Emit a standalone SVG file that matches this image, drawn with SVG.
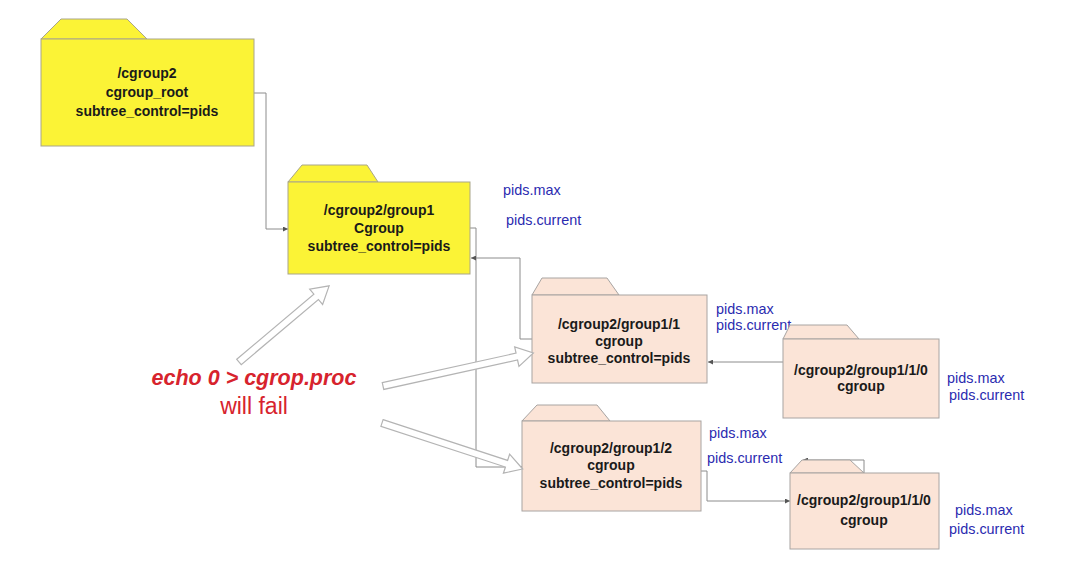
<svg xmlns="http://www.w3.org/2000/svg" width="1080" height="573" viewBox="0 0 1080 573">
<defs>
<style>
.yel{fill:#fbf336;stroke:#a9a58a;stroke-width:1}
.pch{fill:#fbe4d7;stroke:#a8a4a2;stroke-width:1}
.nt{font-family:"Liberation Sans",Arial,sans-serif;font-weight:bold;font-size:14px;fill:#1a1a1a;text-anchor:middle}
.pid{font-family:"Liberation Sans",Arial,sans-serif;font-size:14.4px;fill:#2b2bb0}
.con{fill:none;stroke:#8c8c8c;stroke-width:1;marker-end:url(#ah)}
.blk{fill:#ffffff;stroke:#b4b4b4;stroke-width:1.2;stroke-linejoin:miter}
.red{font-family:"Liberation Sans",Arial,sans-serif;fill:#d7232d;text-anchor:middle}
</style>
<marker id="ah" viewBox="0 0 6 6" refX="6" refY="3" markerWidth="5" markerHeight="5" markerUnits="userSpaceOnUse" orient="auto">
<path d="M0,0 L6,3 L0,6 z" fill="#555555"/>
</marker>
</defs>
<rect width="1080" height="573" fill="#ffffff"/>

<g id="connectors">
<polyline class="con" points="254,93 266,93 266,229 288,229"/>
<polyline class="con" points="470,228 476,228 476,467 522,467"/>
<polyline class="con" points="532,339 520,339 520,258 471,258"/>
<polyline class="con" points="783,362 708,362"/>
<polyline class="con" points="701,471 707,471 707,501 790,501"/>
<polyline class="con" points="864,473 864,460 803,460"/>
</g>

<g id="node-cgroup2">
<polygon class="yel" points="41,39 61,19 127,19 147,39"/>
<rect class="yel" x="41" y="39" width="213" height="107"/>
<text class="nt" x="147" y="78">/cgroup2</text>
<text class="nt" x="147" y="97">cgroup_root</text>
<text class="nt" x="147" y="116">subtree_control=pids</text>
</g>

<g id="node-group1">
<polygon class="yel" points="288,182 302,165 367,165 378,182"/>
<rect class="yel" x="288" y="182" width="182" height="92"/>
<text class="nt" x="379" y="215">/cgroup2/group1</text>
<text class="nt" x="379" y="233">Cgroup</text>
<text class="nt" x="379" y="251">subtree_control=pids</text>
<text class="pid" x="503" y="195">pids.max</text>
<text class="pid" x="506" y="225">pids.current</text>
</g>

<g id="node-group1-1">
<polygon class="pch" points="532,295 542,278 607,278 619,295"/>
<rect class="pch" x="532" y="295" width="175" height="88"/>
<text class="nt" x="619" y="329">/cgroup2/group1/1</text>
<text class="nt" x="619" y="346">cgroup</text>
<text class="nt" x="619" y="363">subtree_control=pids</text>
<text class="pid" x="716" y="314">pids.max</text>
<text class="pid" x="716" y="330">pids.current</text>
</g>

<g id="node-group1-1-0-a">
<polygon class="pch" points="783,339 790,325 847,325 859,339"/>
<rect class="pch" x="783" y="339" width="156" height="79"/>
<text class="nt" x="861" y="375">/cgroup2/group1/1/0</text>
<text class="nt" x="861" y="391">cgroup</text>
<text class="pid" x="947" y="383">pids.max</text>
<text class="pid" x="949" y="400">pids.current</text>
</g>

<g id="node-group1-2">
<polygon class="pch" points="522,421 537,405 597,405 610,421"/>
<rect class="pch" x="522" y="421" width="179" height="90"/>
<text class="nt" x="611" y="453">/cgroup2/group1/2</text>
<text class="nt" x="611" y="470">cgroup</text>
<text class="nt" x="611" y="488">subtree_control=pids</text>
<text class="pid" x="709" y="438">pids.max</text>
<text class="pid" x="707" y="463">pids.current</text>
</g>

<g id="node-group1-1-0-b">
<polygon class="pch" points="790,473 802,460 850,460 864,473"/>
<rect class="pch" x="790" y="473" width="149" height="76"/>
<text class="nt" x="864" y="505">/cgroup2/group1/1/0</text>
<text class="nt" x="864" y="525">cgroup</text>
<text class="pid" x="955" y="515">pids.max</text>
<text class="pid" x="949" y="534">pids.current</text>
</g>

<g id="note">
<g transform="translate(239,362) rotate(-40.2)">
<polygon class="blk" points="0,-3.5 101,-3.5 101,-10 118,0 101,10 101,3.5 0,3.5"/>
</g>
<g transform="translate(383,386) rotate(-12.4)">
<polygon class="blk" points="0,-3.5 137,-3.5 137,-10 154,0 137,10 137,3.5 0,3.5"/>
</g>
<g transform="translate(382,423) rotate(18.1)">
<polygon class="blk" points="0,-3.5 131,-3.5 131,-10 148,0 131,10 131,3.5 0,3.5"/>
</g>
<text class="red" x="254" y="385" font-size="21.5" font-weight="bold" font-style="italic">echo 0 &gt; cgrop.proc</text>
<text class="red" x="254" y="414" font-size="23">will fail</text>
</g>
</svg>
